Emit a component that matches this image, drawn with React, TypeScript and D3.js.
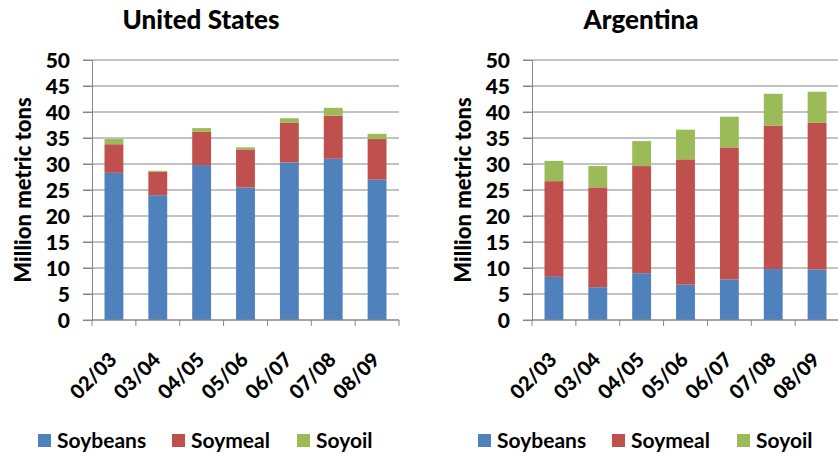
import React, { useEffect, useRef } from 'react'
import * as d3 from 'd3'

// marketing years on the x axis
const categories = ['02/03', '03/04', '04/05', '05/06', '06/07', '07/08', '08/09']
const seriesNames = ['Soybeans', 'Soymeal', 'Soyoil']
const seriesColors = ['#4F81BD', '#C0504D', '#9BBB59']
const yTicks = [0, 5, 10, 15, 20, 25, 30, 35, 40, 45, 50]

// million metric tons
const usSoybeans = [28.3, 24.0, 29.8, 25.5, 30.3, 31.0, 27.0]
const usSoymeal = [5.5, 4.5, 6.4, 7.3, 7.6, 8.3, 7.8]
const usSoyoil = [1.0, 0.2, 0.7, 0.4, 0.9, 1.5, 1.0]

const arSoybeans = [8.3, 6.3, 9.0, 6.8, 7.8, 9.8, 9.7]
const arSoymeal = [18.4, 19.2, 20.6, 24.1, 25.4, 27.6, 28.2]
const arSoyoil = [3.9, 4.1, 4.8, 5.7, 5.9, 6.1, 6.0]

const W = 838
const H = 457
const FONT = 'Lato, sans-serif'
const GRID = '#868686'

type Row = { cat: string; Soybeans: number; Soymeal: number; Soyoil: number }

function toRows(a: number[], b: number[], c: number[]): Row[] {
  return categories.map((cat, i) => ({ cat, Soybeans: a[i], Soymeal: b[i], Soyoil: c[i] }))
}

function drawPanel(
  svg: d3.Selection<SVGSVGElement, unknown, null, undefined>,
  title: string,
  rows: Row[],
  dx: number
) {
  const g = svg.append('g').attr('transform', `translate(${dx},0)`)
  const left = 92
  const right = 399
  const top = 60
  const bottom = 320

  const x = d3.scaleBand<string>().domain(categories).range([left, right]).paddingInner(0.57).paddingOuter(0.285)
  const y = d3.scaleLinear().domain([0, 50]).range([bottom, top])

  // title
  g.append('text')
    .attr('x', 201)
    .attr('y', 29)
    .attr('text-anchor', 'middle')
    .style('font', `900 26px ${FONT}`)
    .text(title)

  // gridlines (stretch left to make the tick marks)
  g.append('g')
    .selectAll('line')
    .data(yTicks)
    .join('line')
    .attr('x1', left - 9)
    .attr('x2', right)
    .attr('y1', d => y(d))
    .attr('y2', d => y(d))
    .attr('stroke', GRID)
    .attr('stroke-width', 1)

  // y axis
  const yAxis = g.append('g')
    .attr('transform', `translate(${left},0)`)
    .call(d3.axisLeft(y).tickValues(yTicks).tickSize(9).tickSizeOuter(0).tickPadding(13))
  yAxis.select('.domain').attr('stroke', GRID)
  yAxis.selectAll('.tick line').attr('stroke', GRID)
  yAxis.selectAll('.tick text')
    .attr('fill', '#000')
    .attr('dy', '0.36em')
    .style('font', `900 21px ${FONT}`)

  // y axis label
  g.append('text')
    .attr('transform', `translate(31,${(top + bottom) / 2}) rotate(-90)`)
    .attr('text-anchor', 'middle')
    .style('font', `900 22px ${FONT}`)
    .text('Million metric tons')

  // stacked bars
  const stack = d3.stack<Row>().keys(seriesNames)
  const layers = stack(rows)
  g.append('g')
    .selectAll('g')
    .data(layers)
    .join('g')
    .attr('fill', (_d, i) => seriesColors[i])
    .selectAll('rect')
    .data(d => d)
    .join('rect')
    .attr('x', d => x(d.data.cat)!)
    .attr('width', x.bandwidth())
    .attr('y', d => y(d[1]))
    .attr('height', d => y(d[0]) - y(d[1]))

  // x axis line + tick marks between categories
  g.append('line')
    .attr('x1', left)
    .attr('x2', right)
    .attr('y1', bottom)
    .attr('y2', bottom)
    .attr('stroke', GRID)
  const bounds = d3.range(categories.length + 1).map(i => left + i * x.step())
  g.append('g')
    .selectAll('line')
    .data(bounds)
    .join('line')
    .attr('x1', d => d)
    .attr('x2', d => d)
    .attr('y1', bottom)
    .attr('y2', bottom + 6)
    .attr('stroke', GRID)

  // rotated category labels
  g.append('g')
    .selectAll('text')
    .data(categories)
    .join('text')
    .attr('transform', d => `translate(${x(d)! + x.bandwidth() / 2 + 4},${bottom + 41}) rotate(-45)`)
    .attr('text-anchor', 'end')
    .style('font', `900 20px ${FONT}`)
    .text(d => d)

  // legend
  const legendX = [38, 172, 297]
  const leg = g.append('g')
    .selectAll('g')
    .data(seriesNames)
    .join('g')
    .attr('transform', (_d, i) => `translate(${legendX[i]},434)`)
  leg.append('rect')
    .attr('width', 13)
    .attr('height', 13)
    .attr('fill', (_d, i) => seriesColors[i])
  leg.append('text')
    .attr('x', 19)
    .attr('y', 14)
    .style('font', `bold 21px ${FONT}`)
    .text(d => d)
}

export default function App() {
  const ref = useRef<SVGSVGElement>(null)

  useEffect(() => {
    const svg = d3.select(ref.current!)
    svg.selectAll('*').remove()
    drawPanel(svg, 'United States', toRows(usSoybeans, usSoymeal, usSoyoil), 0)
    drawPanel(svg, 'Argentina', toRows(arSoybeans, arSoymeal, arSoyoil), 440)
  }, [])

  return (
    <svg
      ref={ref}
      width={W}
      height={H}
      style={{ position: 'absolute', left: 0, top: 0, background: '#fff' }}
    />
  )
}
